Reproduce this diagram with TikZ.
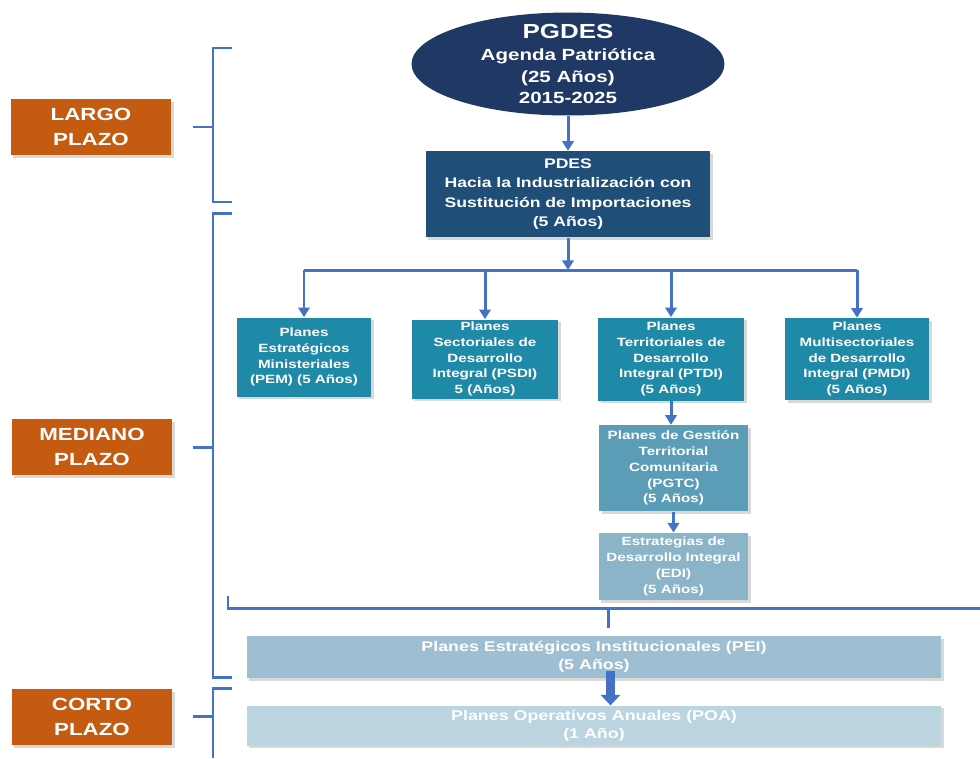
\documentclass[tikz,border=0pt]{standalone}
\usepackage{fontspec}
\setmainfont[FakeStretch=1.27]{Liberation Sans}
\usetikzlibrary{arrows.meta, positioning, shapes.geometric, shadows}

\definecolor{pgdesnavy}{HTML}{203864}
\definecolor{pdesblue}{HTML}{1F4E79}
\definecolor{planteal}{HTML}{1F8AA7}
\definecolor{pgtcblue}{HTML}{5B9CB6}
\definecolor{ediblue}{HTML}{8BB4C8}
\definecolor{peiblue}{HTML}{9EBFD1}
\definecolor{poablue}{HTML}{BAD4E0}
\definecolor{plazoorange}{HTML}{C55A11}
\definecolor{linkblue}{HTML}{4472C4}

\begin{document}
\begin{tikzpicture}[x=0.02cm, y=-0.02cm, node distance=0.5cm, >={Triangle[length=5.5pt, width=6.5pt]},
    link/.style = {draw=linkblue, line width=1.7pt},
    box/.style = {rectangle, inner sep=0pt, text=white, align=center, drop shadow={shadow xshift=1.5pt, shadow yshift=-1.5pt, opacity=0.3}},
    plan/.style = {box, fill=planteal, font=\bfseries\fontsize{6.8}{9}\selectfont},
    wide/.style = {box, minimum width=13.9cm, font=\bfseries\fontsize{8}{10}\selectfont},
    plazo/.style = {box, fill=plazoorange, minimum width=3.22cm, minimum height=1.12cm, font=\bfseries\fontsize{10}{14.7}\selectfont}]

      \useasboundingbox (0,0) rectangle (980,758);

      % Nodes
      \node[ellipse, fill=pgdesnavy, minimum width=6.26cm, minimum height=2.06cm, inner xsep=0pt, inner ysep=-0.3cm, text=white, align=center, font=\bfseries\fontsize{9.2}{12.5}\selectfont] (pgdes) at (568,64) {{\fontsize{11.6}{14}\selectfont PGDES}\\Agenda Patriótica\\(25 Años)\\2015-2025};
      \node[box, fill=pdesblue, minimum width=5.7cm, minimum height=1.72cm, font=\bfseries\fontsize{7.9}{11}\selectfont, below=0.7cm of pgdes] (pdes) {PDES\\Hacia la Industrialización con\\Sustitución de Importaciones\\(5 Años)};

      \node[plan, minimum width=2.7cm, minimum height=1.58cm] (pem) at (304,357) {Planes\\Estratégicos\\Ministeriales\\(PEM) (5 Años)};
      \node[plan, minimum width=2.92cm, minimum height=1.58cm] (psdi) at (485,359) {Planes\\Sectoriales de\\Desarrollo\\Integral (PSDI)\\5 (Años)};
      \node[plan, minimum width=2.92cm, minimum height=1.66cm] (ptdi) at (671,359) {Planes\\Territoriales de\\Desarrollo\\Integral (PTDI)\\(5 Años)};
      \node[plan, minimum width=2.88cm, minimum height=1.64cm] (pmdi) at (857,359) {Planes\\Multisectoriales\\de Desarrollo\\Integral (PMDI)\\(5 Años)};
      \node[plan, fill=pgtcblue, minimum width=2.98cm, minimum height=1.72cm, below=0.48cm of ptdi, xshift=0.05cm] (pgtc) {Planes de Gestión\\Territorial\\Comunitaria\\(PGTC)\\(5 Años)};
      \node[plan, fill=ediblue, minimum width=3cm, minimum height=1.34cm, below=0.42cm of pgtc] (edi) {Estrategias de\\Desarrollo Integral\\(EDI)\\(5 Años)};

      \node[wide, fill=peiblue, minimum height=0.84cm] (pei) at (594,657) {Planes Estratégicos Institucionales (PEI)\\(5 Años)};
      \node[wide, fill=poablue, minimum height=0.8cm, below=0.54cm of pei] (poa) {Planes Operativos Anuales (POA)\\(1 Año)};

      \node[plazo] (largo) at (91,127) {LARGO\\PLAZO};
      \node[plazo] (mediano) at (92,447) {MEDIANO\\PLAZO};
      \node[plazo] (corto) at (92,717) {CORTO\\PLAZO};

      % Connectors
      \coordinate (bus) at (568,270);
      \coordinate (lowbus) at (608,608);
      \draw[link, ->] (pgdes.south) -- (pdes.north);
      \draw[link, ->] (pdes.south) -- (bus);
      \draw[link] (pem.north |- bus) -- (pmdi.north |- bus);
      \foreach \p in {pem, psdi, ptdi, pmdi}
        \draw[link, ->] (\p.north |- bus) -- (\p.north);
      \draw[link, ->] (ptdi.south) -- (ptdi.south |- pgtc.north);
      \draw[link, ->] (pgtc.south) -- (pgtc.south |- edi.north);
      \draw[link] (228,596) |- (980,608);
      \draw[link] (lowbus) -- (lowbus |- 0,628);
      \draw[draw=linkblue, line width=5pt, -{Triangle[length=6pt, width=11pt]}] ([xshift=0.33cm, yshift=4pt]pei.south) -- ([xshift=0.33cm]poa.north);

      % Brackets
      \draw[link] (232,48) -| (213,202) -- (232,202);
      \draw[link] (193,127) -- (213,127);
      \draw[link] (232,213) -| (213,677) -- (232,677);
      \draw[link] (193,447) -- (213,447);
      \draw[link] (232,688) -| (213,758);
      \draw[link] (193,716) -- (213,716);

    \end{tikzpicture}
\end{document}
